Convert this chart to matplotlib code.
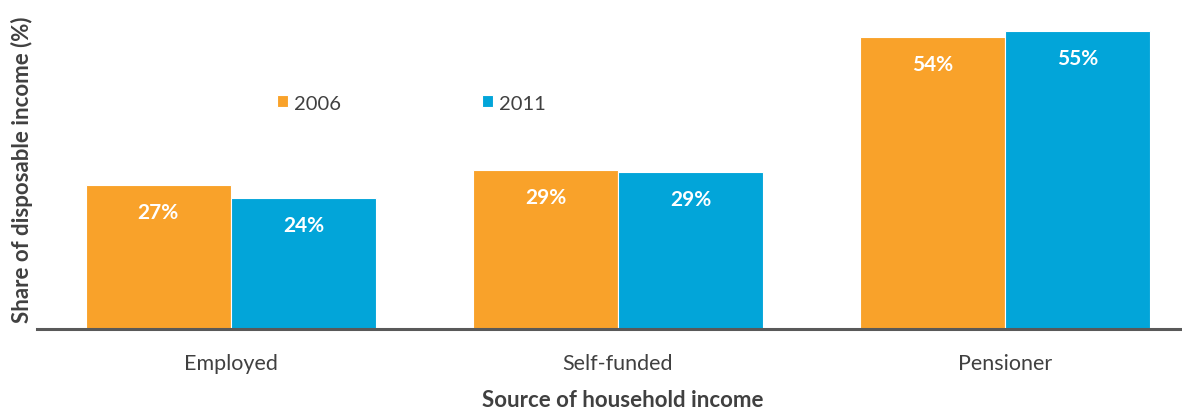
import matplotlib
matplotlib.use("Agg")
import matplotlib.pyplot as plt
import numpy as np

# Share of disposable income by household income source
categories = ["Employed", "Self-funded", "Pensioner"]
years = ["2006", "2011"]
share_2006 = [26.6, 29.4, 54.0]
share_2011 = [24.2, 29.0, 55.1]

ORANGE = "#F9A22A"
BLUE = "#02A5D9"
TEXT = "#404040"
AXIS = "#595959"

plt.rcParams["font.family"] = ["Lato", "DejaVu Sans"]

W, H = 1182, 410
fig = plt.figure(figsize=(W / 100, H / 100), dpi=100)
ax = fig.add_axes([37 / W, (H - 330) / H, (W - 37) / W, 310 / H])

x = np.arange(len(categories))
bw = 0.375
b1 = ax.bar(x - bw / 2, share_2006, bw, color=ORANGE, edgecolor="white", linewidth=0.8, label=years[0])
b2 = ax.bar(x + bw / 2, share_2011, bw, color=BLUE, edgecolor="white", linewidth=0.8, label=years[1])

# value labels inside the bars, just under the top
for bars, vals in ((b1, share_2006), (b2, share_2011)):
    for rect, v in zip(bars, vals):
        ax.annotate(f"{v:.0f}%", (rect.get_x() + rect.get_width() / 2, v),
                    xytext=(0, -27), textcoords="offset pixels",
                    ha="center", va="center", color="white",
                    fontsize=15, fontweight="bold")

ax.set_xlim(-0.501, 2.457)
ax.set_ylim(0, 310 / 5.4)

ax.set_xticks(x)
ax.set_xticklabels(categories, fontsize=15.5, color=TEXT)
ax.tick_params(axis="x", length=0, pad=17)
ax.set_yticks([])
for s in ("top", "right", "left"):
    ax.spines[s].set_visible(False)
ax.spines["bottom"].set_color(AXIS)
ax.spines["bottom"].set_linewidth(2.2)

fig.text(22 / W, 1 - 170 / H, "Share of disposable income (%)", rotation=90,
         ha="center", va="center", fontsize=16, fontweight="bold", color=TEXT)
fig.text(623 / W, 1 - 407 / H, "Source of household income",
         ha="center", va="baseline", fontsize=16, fontweight="bold", color=TEXT)

leg = ax.legend(ncol=2, loc="center left", bbox_to_anchor=(277 / W, 1 - 104 / H),
                bbox_transform=fig.transFigure, frameon=False, borderpad=0,
                borderaxespad=0, handlelength=0.55, handleheight=0.55,
                handletextpad=0.3, columnspacing=7.0, fontsize=14.5)
for t in leg.get_texts():
    t.set_color(TEXT)

fig.savefig("out.png", dpi=100)
